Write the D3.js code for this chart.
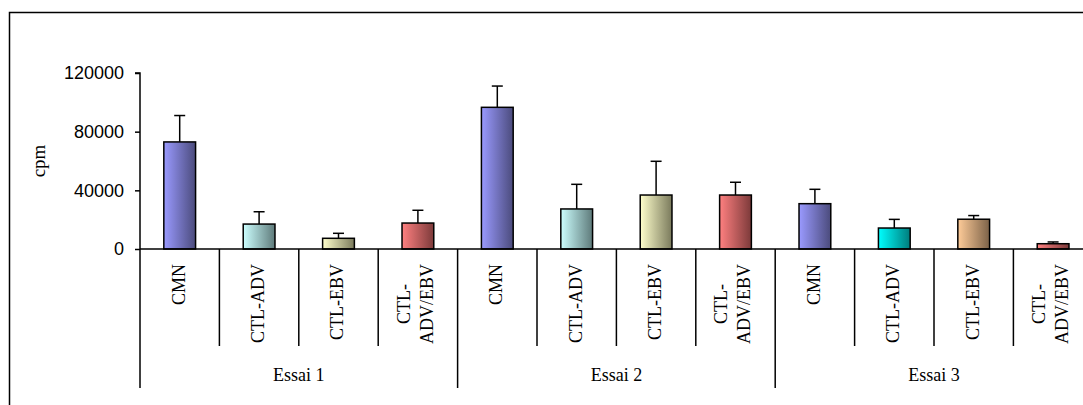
<!DOCTYPE html>
<html>
<head>
<meta charset="utf-8">
<script src="https://cdn.jsdelivr.net/npm/d3@7"></script>
<style>
  html, body { margin: 0; padding: 0; background: #fff; }
  svg { display: block; }
</style>
</head>
<body>
<svg id="chart" width="1083" height="405"></svg>
<script>
// ---- data ----
const groups = ["Essai 1", "Essai 2", "Essai 3"];
const categories = ["CMN", "CTL-ADV", "CTL-EBV", "CTL-ADV/EBV"];
const categoryLabelLines = [["CMN"], ["CTL-ADV"], ["CTL-EBV"], ["CTL-", "ADV/EBV"]];
const essai1Values = [73000, 17000, 7300, 17700];
const essai1Errors = [18000, 8400, 3400, 8700];
const essai2Values = [96600, 27300, 36800, 36800];
const essai2Errors = [14500, 16800, 23000, 8700];
const essai3Values = [30900, 14300, 20300, 3600];
const essai3Errors = [9800, 5900, 2500, 1200];
const yTickValues = [0, 40000, 80000, 120000];
const yAxisTitle = "cpm";

// ---- styles (gradient light -> dark per bar) ----
const palette = {
  "Essai 1": [["#9a9aff", "#4b4b7c"], ["#ccffff", "#5e7a7a"], ["#ffffcc", "#7a7a5c"], ["#ff8080", "#7c3a3a"]],
  "Essai 2": [["#9a9aff", "#4b4b7c"], ["#ccffff", "#5e7a7a"], ["#ffffcc", "#7a7a5c"], ["#ff8080", "#7c3a3a"]],
  "Essai 3": [["#9a9aff", "#4b4b7c"], ["#00ffff", "#007c7c"], ["#ffcc99", "#7c6248"], ["#ff8080", "#7c3a3a"]]
};

const valuesByGroup = [essai1Values, essai2Values, essai3Values];
const errorsByGroup = [essai1Errors, essai2Errors, essai3Errors];
const rows = [];
groups.forEach((g, gi) => {
  categories.forEach((c, ci) => {
    rows.push({ group: g, gi, cat: c, ci, key: g + "|" + c,
      value: valuesByGroup[gi][ci], err: errorsByGroup[gi][ci],
      colors: palette[g][ci] });
  });
});

const svg = d3.select("#chart");
const serif = "'Liberation Serif', 'Times New Roman', serif";
const sans = "'Liberation Sans', Arial, sans-serif";

// outer frame
svg.append("rect").attr("x", 9.5).attr("y", 12.5).attr("width", 1090).attr("height", 410)
  .attr("fill", "none").attr("stroke", "#000").attr("stroke-width", 1.5);

const plotLeft = 140, catW = 79.4;
const x = d3.scaleBand().domain(rows.map(d => d.key))
  .range([plotLeft, plotLeft + catW * rows.length]).paddingInner(0).paddingOuter(0);
const y = d3.scaleLinear().domain([0, 120000]).range([249, 73]);

// gradients
const defs = svg.append("defs");
rows.forEach((d, i) => {
  const lg = defs.append("linearGradient").attr("id", "g" + i)
    .attr("x1", "0%").attr("x2", "100%").attr("y1", "0%").attr("y2", "0%");
  lg.append("stop").attr("offset", "0%").attr("stop-color", d.colors[0]);
  lg.append("stop").attr("offset", "100%").attr("stop-color", d.colors[1]);
});

// y axis
const yAxis = d3.axisLeft(y).tickValues(yTickValues).tickSize(5).tickPadding(11)
  .tickFormat(d3.format("d"));
const yg = svg.append("g").attr("transform", `translate(${plotLeft},0)`).call(yAxis);
yg.select(".domain").attr("stroke", "#000").attr("stroke-width", 1.5).attr("d", `M-5,${y(120000)}H0V${y(0)}`);
yg.selectAll(".tick line").attr("stroke", "#000").attr("stroke-width", 1.5);
yg.selectAll(".tick text").attr("font-family", sans).attr("font-size", 18).attr("fill", "#000");

svg.append("text").attr("transform", `translate(45,161) rotate(-90)`)
  .attr("text-anchor", "middle").attr("font-family", serif).attr("font-size", 19)
  .text(yAxisTitle);

// bars
const barW = x.bandwidth() * 0.4;
svg.append("g").selectAll("rect").data(rows).join("rect")
  .attr("x", d => x(d.key) + (x.bandwidth() - barW) / 2)
  .attr("y", d => y(d.value))
  .attr("width", barW)
  .attr("height", d => y(0) - y(d.value))
  .attr("fill", (d, i) => `url(#g${i})`)
  .attr("stroke", "#000").attr("stroke-width", 1.5);

// error bars
const eg = svg.append("g").attr("stroke", "#000").attr("stroke-width", 1.5);
eg.selectAll("line.v").data(rows).join("line").attr("class", "v")
  .attr("x1", d => x(d.key) + x.bandwidth() / 2).attr("x2", d => x(d.key) + x.bandwidth() / 2)
  .attr("y1", d => y(d.value)).attr("y2", d => y(d.value + d.err));
eg.selectAll("line.c").data(rows).join("line").attr("class", "c")
  .attr("x1", d => x(d.key) + x.bandwidth() / 2 - 5.5).attr("x2", d => x(d.key) + x.bandwidth() / 2 + 5.5)
  .attr("y1", d => y(d.value + d.err)).attr("y2", d => y(d.value + d.err));

// x axis line
svg.append("line").attr("x1", plotLeft).attr("x2", 1083).attr("y1", y(0)).attr("y2", y(0))
  .attr("stroke", "#000").attr("stroke-width", 1.5);

// category dividers
const dg = svg.append("g").attr("stroke", "#000").attr("stroke-width", 1.5);
rows.forEach((d, i) => {
  const xx = x(d.key);
  const isGroupStart = d.ci === 0;
  dg.append("line").attr("x1", xx).attr("x2", xx).attr("y1", y(0))
    .attr("y2", isGroupStart ? 388 : 346);
});
dg.append("line").attr("x1", x.range()[1]).attr("x2", x.range()[1]).attr("y1", y(0)).attr("y2", 388);

// category labels
const labelTop = 264, lineGap = 23;
rows.forEach(d => {
  const lines = categoryLabelLines[d.ci];
  const cx = x(d.key) + x.bandwidth() / 2;
  if (lines.length === 1) {
    svg.append("text").attr("transform", `translate(${cx - 1.5},${labelTop}) rotate(-90)`)
      .attr("text-anchor", "end").attr("dy", "0.35em")
      .attr("font-family", serif).attr("font-size", 18).text(lines[0]);
  } else {
    const t = svg.append("text").attr("font-family", serif).attr("font-size", 18);
    const tmp = lines.map(l => { const s = t.append("tspan").text(l); const w = s.node().getComputedTextLength(); s.remove(); return w; });
    const maxLen = d3.max(tmp);
    t.attr("transform", `translate(${cx - 3},${labelTop}) rotate(-90)`).attr("text-anchor", "middle");
    lines.forEach((l, li) => {
      t.append("tspan").attr("x", -maxLen / 2)
        .attr("y", (li - (lines.length - 1) / 2) * lineGap).attr("dy", "0.35em").text(l);
    });
  }
});

// group labels
groups.forEach((g, gi) => {
  const x0 = x(g + "|" + categories[0]);
  const x1 = x(g + "|" + categories[categories.length - 1]) + x.bandwidth();
  svg.append("text").attr("x", (x0 + x1) / 2).attr("y", 375).attr("dy", "0.35em")
    .attr("text-anchor", "middle").attr("font-family", serif).attr("font-size", 18).text(g);
});
</script>
</body>
</html>
